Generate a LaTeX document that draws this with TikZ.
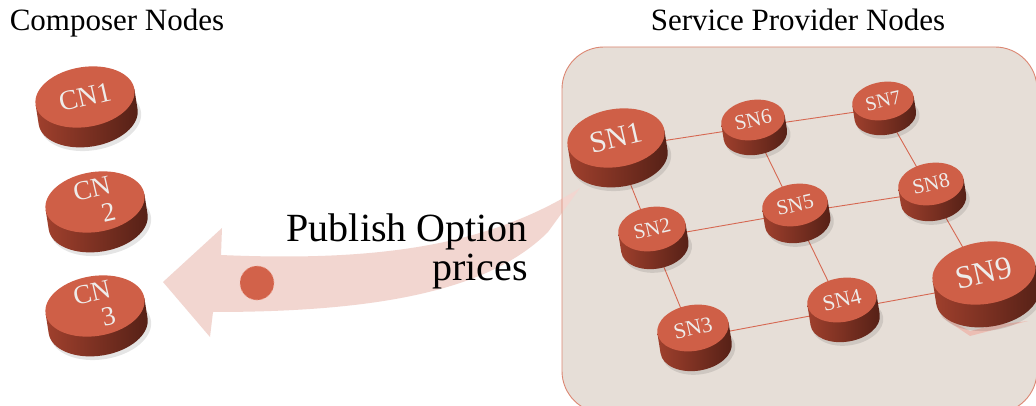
\documentclass[tikz,border=0pt]{standalone}
\usepackage{fontspec}
\setmainfont{Liberation Serif}
\definecolor{puckTop}{RGB}{207,95,71}
\definecolor{puckSideL}{RGB}{160,64,45}
\definecolor{puckSideM}{RGB}{128,50,34}
\definecolor{puckSideR}{RGB}{84,32,22}
\definecolor{panelFill}{RGB}{230,222,215}
\definecolor{panelLine}{RGB}{220,135,115}
\definecolor{linkLine}{RGB}{214,104,82}
\definecolor{arrowPink}{RGB}{242,214,208}
\definecolor{chevronPink}{RGB}{236,190,180}
\definecolor{dotRed}{RGB}{210,98,74}
\definecolor{dotRim}{RGB}{236,160,142}
\definecolor{labelInk}{RGB}{238,236,234}
\tikzset{
  titletext/.style={anchor=base, inner sep=0pt, font=\fontsize{31}{31}\selectfont},
  bigtext/.style={anchor=base east, inner sep=0pt, font=\fontsize{40}{40}\selectfont},
  link/.style={draw=linkLine, line width=0.9pt},
  pucklabel/.style={inner sep=0pt, align=center, text=labelInk},
}
% a tilted disc: name, centre x, top-face centre y, x radius, y radius,
% thickness, font size, label
\newcommand{\puck}[8]{%
  \begin{scope}[rotate around={9:(#2,#3)}]
    \fill[black, opacity=0.10] (#2+2,#3+#6+3) ellipse[x radius=#4+1, y radius=#5+1];
    \shade[left color=puckSideL, middle color=puckSideM, right color=puckSideR]
      (#2-#4,#3) -- (#2-#4,#3+#6)
      arc[start angle=180, end angle=0, x radius=#4, y radius=#5]
      -- (#2+#4,#3) -- cycle;
    \fill[puckTop] (#2,#3) ellipse[x radius=#4, y radius=#5];
  \end{scope}
  \node[pucklabel, rotate=13, font={\fontsize{#7}{#7}\selectfont}] (#1-label) at (#2,#3) {#8};
}
\begin{document}
\begin{tikzpicture}[x=1pt, y=-1pt]
  \clip (0,0) rectangle (1036,406);
  \fill[white] (0,0) rectangle (1036,406);

  % panel holding the service provider nodes
  \fill[panelFill, rounded corners=42pt] (562,47) rectangle (1037,413);

  % curved arrow carrying the published prices
  \fill[arrowPink] (163,282) -- (222,228) -- (221,255)
    .. controls (380,262) and (490,245) .. (580,188)
    -- (548,232)
    .. controls (490,290) and (380,312) .. (213,312)
    -- (210,337) -- cycle;
  \draw[panelLine, line width=0.9pt, rounded corners=42pt] (562,47) rectangle (1037,413);
  \node[circle, fill=dotRed, draw=dotRim, dashed, line width=0.6pt,
        minimum size=34pt, inner sep=0pt] (dot) at (257,283) {};

  \node[bigtext] (pub1) at (528,242) {Publish Option};
  \node[bigtext] (pub2) at (528,280) {prices};

  \node[titletext] (titleCN) at (117,31) {Composer Nodes};
  \node[titletext] (titleSN) at (798,31) {Service Provider Nodes};

  % link endpoints (disc centres)
  \coordinate (sn1) at (616,148);
  \coordinate (sn2) at (652,238);
  \coordinate (sn3) at (693,338);
  \coordinate (sn4) at (842,310);
  \coordinate (sn5) at (795,213);
  \coordinate (sn6) at (753,127);
  \coordinate (sn7) at (883,108);
  \coordinate (sn8) at (931,192);
  \coordinate (sn9) at (984,284);

  \draw[link] (sn1) -- (sn6);
  \draw[link] (sn6) -- (sn7);
  \draw[link] (sn7) -- (sn8);
  \draw[link] (sn8) -- (sn9);
  \draw[link] (sn1) -- (sn2);
  \draw[link] (sn6) -- (sn5);
  \draw[link] (sn2) -- (sn5);
  \draw[link] (sn5) -- (sn8);
  \draw[link] (sn2) -- (sn3);
  \draw[link] (sn5) -- (sn4);
  \draw[link] (sn3) -- (sn4);
  \draw[link] (sn4) -- (sn9);

  % small chevron peeking out below SN9
  \fill[chevronPink] (940,316) -- (970,336) -- (1028,321) -- (995,325) -- (970,331) -- cycle;

  % composer discs
  \puck{cn1}{85}{97}{50}{30}{20}{28}{CN1}
  \puck{cn2}{95}{202}{50}{30}{20}{27}{CN\\\hspace*{0.8em}2}
  \puck{cn3}{95}{306}{50}{30}{20}{27}{CN\\\hspace*{0.8em}3}

  % service provider discs
  \puck{sn1n}{616}{138}{49}{29}{20}{30}{SN1}
  \puck{sn6n}{753}{120}{32}{20}{15}{21}{SN6}
  \puck{sn7n}{883}{101}{31}{19}{15}{20}{SN7}
  \puck{sn8n}{931}{184}{33}{21}{16}{21}{SN8}
  \puck{sn5n}{795}{205}{33}{21}{17}{21}{SN5}
  \puck{sn2n}{652}{229}{34}{22}{18}{21}{SN2}
  \puck{sn9n}{984}{273}{52}{31}{23}{32}{SN9}
  \puck{sn4n}{842}{300}{35}{22}{20}{22}{SN4}
  \puck{sn3n}{693}{328}{36}{23}{20}{22}{SN3}
\end{tikzpicture}
\end{document}
